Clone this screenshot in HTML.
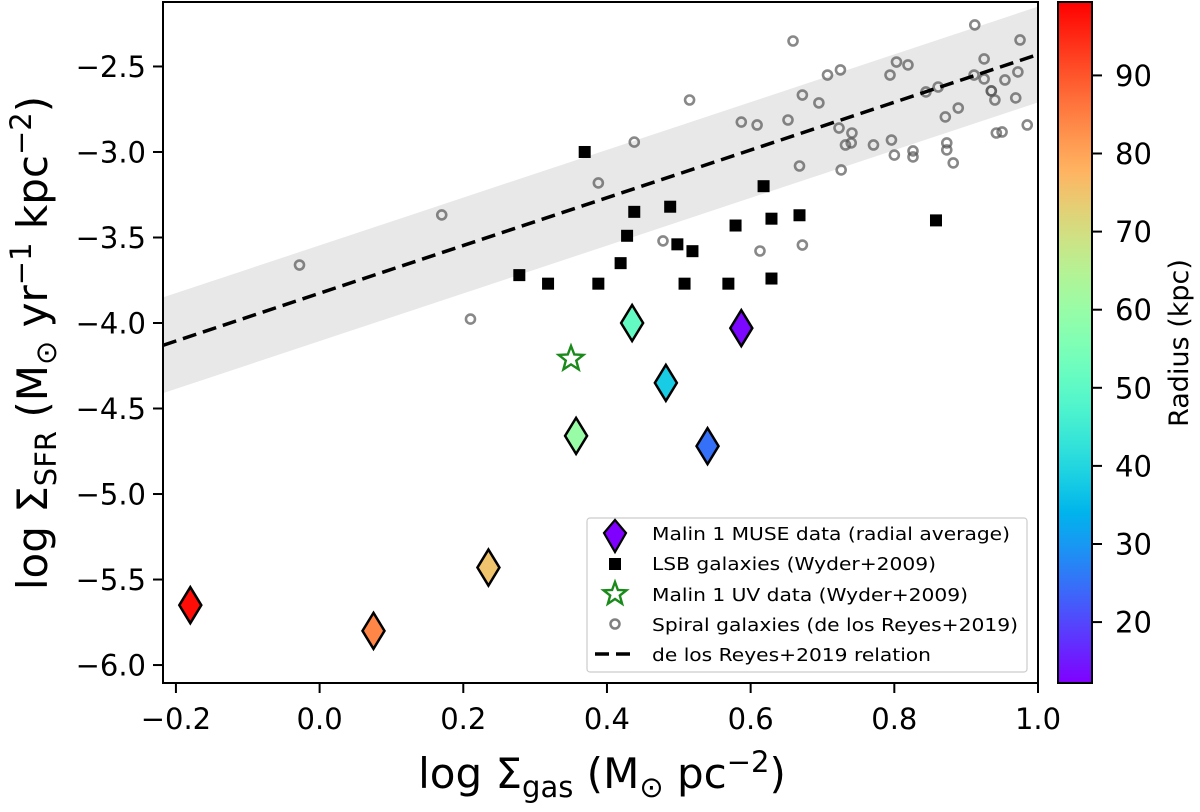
<!DOCTYPE html>
<html><head><meta charset="utf-8"><style>
body{margin:0;background:#fff;}
svg text{font-family:"DejaVu Sans","Liberation Sans",sans-serif;fill:#000;}
</style></head><body>
<svg id="chart" width="1200" height="807" xmlns="http://www.w3.org/2000/svg">
<defs><clipPath id="clip"><rect x="163" y="2" width="875" height="681"/></clipPath>
<linearGradient id="rb" x1="0" y1="1" x2="0" y2="0"></linearGradient></defs>
<g id="plot" clip-path="url(#clip)"></g>
<rect x="163" y="2" width="875" height="681" fill="none" stroke="#000" stroke-width="2"/>
<g id="axes"></g>
<text transform="translate(47,343) rotate(-90)" text-anchor="middle" font-size="42">log Σ<tspan font-size="29" dy="9">SFR</tspan><tspan dy="-9"> (M</tspan><tspan font-size="29" dy="9">⊙</tspan><tspan dy="-9"> yr</tspan><tspan font-size="29" dy="-16">−1</tspan><tspan dy="16"> kpc</tspan><tspan font-size="29" dy="-16">−2</tspan><tspan dy="16">)</tspan></text>
<text x="602" y="788" text-anchor="middle" font-size="42">log Σ<tspan font-size="29" dy="9">gas</tspan><tspan dy="-9"> (M</tspan><tspan font-size="29" dy="9">⊙</tspan><tspan dy="-9"> pc</tspan><tspan font-size="29" dy="-16">−2</tspan><tspan dy="16">)</tspan></text>
<rect x="1058" y="2" width="34" height="681" fill="url(#rb)" stroke="#000" stroke-width="2"/>
<text transform="translate(1188,343) rotate(-90)" text-anchor="middle" font-size="27">Radius (kpc)</text>
<g>
<rect x="587" y="518" width="440" height="154" rx="3" fill="#fff" fill-opacity="0.85" stroke="#ccc" stroke-width="1.2"/>
<path d="M615,520 L626,533 L615,552 L604,533 Z" fill="#8000ff" stroke="#000" stroke-width="2.2"/>
<text x="652" y="540" font-size="18" textLength="358" lengthAdjust="spacingAndGlyphs">Malin 1 MUSE data (radial average)</text>
<rect x="609" y="558" width="12" height="12" fill="#000"/>
<text x="652" y="570" font-size="18" textLength="284" lengthAdjust="spacingAndGlyphs">LSB galaxies (Wyder+2009)</text>
<path d="" id="lgstar" fill="none" stroke="#1a8a1a" stroke-width="2.4"/>
<text x="652" y="601" font-size="18" textLength="316" lengthAdjust="spacingAndGlyphs">Malin 1 UV data (Wyder+2009)</text>
<circle cx="615" cy="624" r="4.5" fill="none" stroke="#808080" stroke-width="2.5"/>
<text x="652" y="631" font-size="18" textLength="366" lengthAdjust="spacingAndGlyphs">Spiral galaxies (de los Reyes+2019)</text>
<line x1="595" y1="654" x2="635" y2="654" stroke="#000" stroke-width="3.5" stroke-dasharray="14,7"/>
<text x="652" y="661" font-size="18" textLength="279" lengthAdjust="spacingAndGlyphs">de los Reyes+2019 relation</text>
</g>
</svg>
<script>
const xTicks=[-0.2,0.0,0.2,0.4,0.6,0.8,1.0];
const xTickLabels=["−0.2","0.0","0.2","0.4","0.6","0.8","1.0"];
const yTicks=[-2.5,-3.0,-3.5,-4.0,-4.5,-5.0,-5.5,-6.0];
const yTickLabels=["−2.5","−3.0","−3.5","−4.0","−4.5","−5.0","−5.5","−6.0"];
const cbTicks=[20,30,40,50,60,70,80,90];
const spiralX=[-0.028,0.170,0.210,0.388,0.438,0.515,0.587,0.609,0.652,0.659,0.478,0.613,0.672,0.668,0.726,0.672,0.695,0.707,0.725,0.794,0.803,0.819,0.912,0.975,0.925,0.911,0.925,0.954,0.972,0.861,0.844,0.935,0.935,0.940,0.969,0.889,0.871,0.723,0.741,0.732,0.740,0.771,0.796,0.800,0.826,0.826,0.873,0.873,0.882,0.942,0.950,0.985];
const spiralY=[-3.661,-3.368,-3.977,-3.181,-2.942,-2.696,-2.825,-2.842,-2.813,-2.351,-3.520,-3.579,-3.544,-3.082,-3.105,-2.667,-2.713,-2.550,-2.520,-2.550,-2.474,-2.491,-2.257,-2.345,-2.456,-2.550,-2.573,-2.579,-2.532,-2.620,-2.649,-2.643,-2.643,-2.696,-2.684,-2.743,-2.795,-2.860,-2.889,-2.959,-2.947,-2.959,-2.930,-3.018,-2.994,-3.029,-2.947,-2.988,-3.064,-2.889,-2.883,-2.842];
const lsbX=[0.369,0.438,0.488,0.618,0.428,0.579,0.629,0.668,0.858,0.498,0.519,0.419,0.278,0.318,0.388,0.508,0.569,0.629];
const lsbY=[-3.00,-3.35,-3.32,-3.20,-3.49,-3.43,-3.39,-3.37,-3.40,-3.54,-3.58,-3.65,-3.72,-3.77,-3.77,-3.77,-3.77,-3.74];
const museX=[-0.18,0.075,0.235,0.357,0.435,0.482,0.540,0.587];
const museY=[-5.65,-5.80,-5.43,-4.66,-4.00,-4.35,-4.72,-4.03];
const museR=[98,84,75,60,51,38,25,13];
const uvX=[0.35], uvY=[-4.21];
const relSlope=1.396, relAt1=-2.43, relBand=0.28;
const X0=-0.218,X1=1.0,Y0=-6.105,Y1=-2.123,R0=12.2,R1=99.4;
const sx=v=>163+(v-X0)/(X1-X0)*875;
const sy=v=>683-(v-Y0)/(Y1-Y0)*681;
const sc=v=>683-(v-R0)/(R1-R0)*681;
function rainbow(t){const r=Math.min(1,Math.abs(2*t-0.5)),g=Math.sin(Math.PI*t),b=Math.cos(Math.PI*t/2);
return `rgb(${Math.round(r*255)},${Math.round(g*255)},${Math.round(Math.max(0,b)*255)})`;}
const NS="http://www.w3.org/2000/svg";
function mk(tag,attrs,parent){const e=document.createElementNS(NS,tag);for(const k in attrs)e.setAttribute(k,attrs[k]);parent.appendChild(e);return e;}
const plot=document.getElementById('plot'),axes=document.getElementById('axes');
const grad=document.getElementById('rb');
for(let i=0;i<=20;i++){mk('stop',{offset:(i/20),'stop-color':rainbow(i/20)},grad);}
const lf=x=>relAt1+relSlope*(x-1);
const band=mk('path',{d:`M${sx(X0)},${sy(lf(X0)+relBand)} L${sx(X1)},${sy(lf(X1)+relBand)} L${sx(X1)},${sy(lf(X1)-relBand)} L${sx(X0)},${sy(lf(X0)-relBand)} Z`,fill:'#e8e8e8'},plot);


spiralX.forEach((x,i)=>{const c=mk('circle',{cx:sx(x),cy:sy(spiralY[i]),r:4.5,fill:'none',stroke:'#555','stroke-opacity':0.7,'stroke-width':2.6},plot);

});
const ln=mk('line',{x1:sx(X0),y1:sy(lf(X0)),x2:sx(X1),y2:sy(lf(X1)),stroke:'#000','stroke-width':3.5,'stroke-dasharray':'14,7'},plot);


lsbX.forEach((x,i)=>{const r=mk('rect',{x:sx(x)-6,y:sy(lsbY[i])-6,width:12,height:12,fill:'#000'},plot);

});
function star(cx,cy,R,r){let p=[];for(let k=0;k<10;k++){const a=-Math.PI/2+k*Math.PI/5,rr=k%2?r:R;p.push((cx+rr*Math.cos(a)).toFixed(1)+','+(cy+rr*Math.sin(a)).toFixed(1));}return 'M'+p.join(' L')+' Z';}
uvX.forEach((x,i)=>{const s=mk('path',{d:star(sx(x),sy(uvY[i]),13,5.5),fill:'none',stroke:'#1a8a1a','stroke-width':2.4},plot);

});
document.getElementById('lgstar').setAttribute('d',star(615,594,12,5));
museX.forEach((x,i)=>{const cx=sx(x),cy=sy(museY[i]);
const d=mk('path',{d:`M${cx},${cy-18} L${cx+11},${cy} L${cx},${cy+18} L${cx-11},${cy} Z`,fill:rainbow((museR[i]-R0)/(R1-R0)),stroke:'#000','stroke-width':2.5},plot);

});
xTicks.forEach((t,i)=>{const x=sx(t);
const l=mk('line',{x1:x,y1:683,x2:x,y2:693,stroke:'#000','stroke-width':2},axes);


const tx=mk('text',{x:x,y:729,'text-anchor':'middle','font-size':29},axes);tx.textContent=xTickLabels[i];

});
yTicks.forEach((t,i)=>{const y=sy(t);
const l=mk('line',{x1:153,y1:y,x2:163,y2:y,stroke:'#000','stroke-width':2},axes);


const tx=mk('text',{x:146,y:y+10.5,'text-anchor':'end','font-size':29},axes);tx.textContent=yTickLabels[i];

});
cbTicks.forEach(t=>{const y=sc(t);
const l=mk('line',{x1:1092,y1:y,x2:1102,y2:y,stroke:'#000','stroke-width':2},axes);


const tx=mk('text',{x:1115,y:y+10.5,'font-size':29},axes);tx.textContent=t;

});
</script>
</body></html>
